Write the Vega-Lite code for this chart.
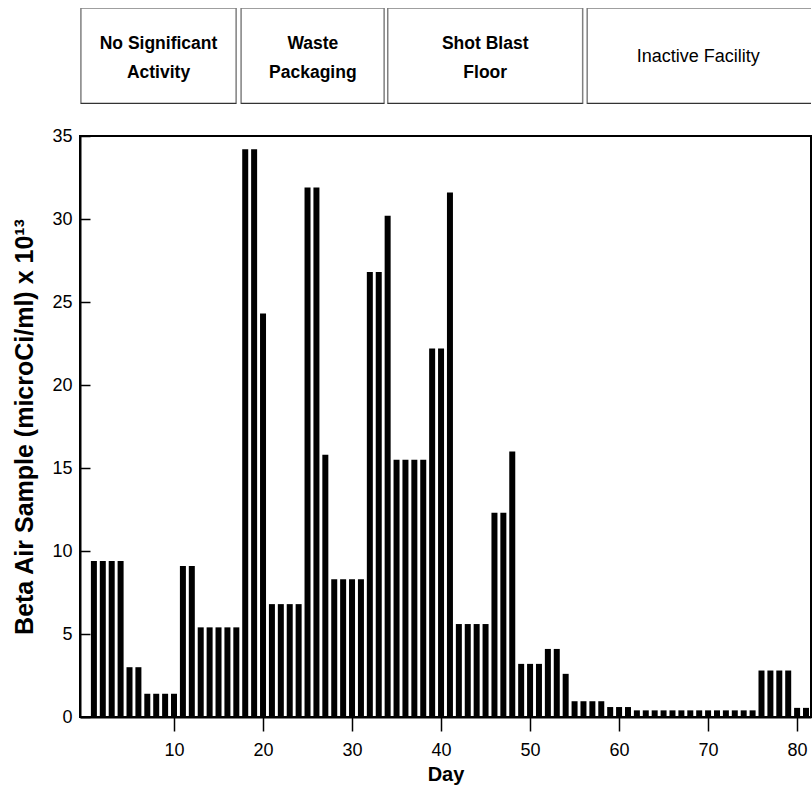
{
  "$schema": "https://vega.github.io/schema/vega-lite/v6.json",
  "padding": {"left": 11, "top": 8, "right": 0, "bottom": 0},
  "background": "white",
  "bounds": "flush",
  "config": {"font": "Liberation Sans", "view": {"stroke": null}},
  "spacing": 32,
  "datasets": {
    "phases": [
      {"phase": "No Significant\nActivity", "start": 0.1, "end": 17.3, "mid": 8.7, "bold": "yes"},
      {"phase": "Waste\nPackaging", "start": 17.85, "end": 33.7, "mid": 25.8, "bold": "yes"},
      {"phase": "Shot Blast\nFloor", "start": 34.1, "end": 55.7, "mid": 44.9, "bold": "yes"},
      {"phase": "Inactive Facility", "start": 56.2, "end": 83, "mid": 68.5, "bold": "no"}
    ],
    "samples": [
      {"day": 1, "beta": 9.4}, {"day": 2, "beta": 9.4}, {"day": 3, "beta": 9.4}, {"day": 4, "beta": 9.4},
      {"day": 5, "beta": 3.0}, {"day": 6, "beta": 3.0},
      {"day": 7, "beta": 1.4}, {"day": 8, "beta": 1.4}, {"day": 9, "beta": 1.4}, {"day": 10, "beta": 1.4},
      {"day": 11, "beta": 9.1}, {"day": 12, "beta": 9.1},
      {"day": 13, "beta": 5.4}, {"day": 14, "beta": 5.4}, {"day": 15, "beta": 5.4}, {"day": 16, "beta": 5.4}, {"day": 17, "beta": 5.4},
      {"day": 18, "beta": 34.2}, {"day": 19, "beta": 34.2},
      {"day": 20, "beta": 24.3},
      {"day": 21, "beta": 6.8}, {"day": 22, "beta": 6.8}, {"day": 23, "beta": 6.8}, {"day": 24, "beta": 6.8},
      {"day": 25, "beta": 31.9}, {"day": 26, "beta": 31.9},
      {"day": 27, "beta": 15.8},
      {"day": 28, "beta": 8.3}, {"day": 29, "beta": 8.3}, {"day": 30, "beta": 8.3}, {"day": 31, "beta": 8.3},
      {"day": 32, "beta": 26.8}, {"day": 33, "beta": 26.8},
      {"day": 34, "beta": 30.2},
      {"day": 35, "beta": 15.5}, {"day": 36, "beta": 15.5}, {"day": 37, "beta": 15.5}, {"day": 38, "beta": 15.5},
      {"day": 39, "beta": 22.2}, {"day": 40, "beta": 22.2},
      {"day": 41, "beta": 31.6},
      {"day": 42, "beta": 5.6}, {"day": 43, "beta": 5.6}, {"day": 44, "beta": 5.6}, {"day": 45, "beta": 5.6},
      {"day": 46, "beta": 12.3}, {"day": 47, "beta": 12.3},
      {"day": 48, "beta": 16.0},
      {"day": 49, "beta": 3.2}, {"day": 50, "beta": 3.2}, {"day": 51, "beta": 3.2},
      {"day": 52, "beta": 4.1}, {"day": 53, "beta": 4.1},
      {"day": 54, "beta": 2.6},
      {"day": 55, "beta": 0.95}, {"day": 56, "beta": 0.95}, {"day": 57, "beta": 0.95}, {"day": 58, "beta": 0.95},
      {"day": 59, "beta": 0.6}, {"day": 60, "beta": 0.6}, {"day": 61, "beta": 0.6},
      {"day": 62, "beta": 0.4}, {"day": 63, "beta": 0.4}, {"day": 64, "beta": 0.4}, {"day": 65, "beta": 0.4},
      {"day": 66, "beta": 0.4}, {"day": 67, "beta": 0.4}, {"day": 68, "beta": 0.4}, {"day": 69, "beta": 0.4},
      {"day": 70, "beta": 0.4}, {"day": 71, "beta": 0.4}, {"day": 72, "beta": 0.4}, {"day": 73, "beta": 0.4},
      {"day": 74, "beta": 0.4}, {"day": 75, "beta": 0.4},
      {"day": 76, "beta": 2.8}, {"day": 77, "beta": 2.8}, {"day": 78, "beta": 2.8}, {"day": 79, "beta": 2.8},
      {"day": 80, "beta": 0.55}, {"day": 81, "beta": 0.55}
    ]
  },
  "vconcat": [
    {
      "width": 731,
      "height": 96,
      "data": {"name": "phases"},
      "view": {"stroke": null},
      "layer": [
        {
          "mark": {"type": "rect", "fill": "white", "stroke": "#808080", "strokeWidth": 1.5, "clip": true},
          "encoding": {
            "x": {"field": "start", "type": "quantitative", "scale": {"domain": [0, 81], "nice": false, "zero": false}, "axis": null},
            "x2": {"field": "end"}
          }
        },
        {
          "mark": {"type": "rule", "stroke": "#333333", "strokeWidth": 2.5, "clip": true},
          "encoding": {
            "x": {"field": "start", "type": "quantitative", "scale": {"domain": [0, 81], "nice": false, "zero": false}, "axis": null},
            "x2": {"field": "end"},
            "y": {"datum": 0, "type": "quantitative", "scale": {"domain": [0, 1]}, "axis": null}
          }
        },
        {
          "transform": [{"filter": "datum.bold == 'yes'"}],
          "mark": {"type": "text", "font": "Liberation Sans", "fontSize": 17.5, "fontWeight": "bold", "lineBreak": "\n", "lineHeight": 29, "baseline": "middle", "align": "center", "dy": -12, "color": "black"},
          "encoding": {
            "x": {"field": "mid", "type": "quantitative", "scale": {"domain": [0, 81], "nice": false, "zero": false}, "axis": null},
            "y": {"datum": 0.5, "type": "quantitative", "scale": {"domain": [0, 1]}, "axis": null},
            "text": {"field": "phase"}
          }
        },
        {
          "transform": [{"filter": "datum.bold == 'no'"}],
          "mark": {"type": "text", "font": "Liberation Sans", "fontSize": 18, "baseline": "middle", "align": "center", "dy": 1, "color": "black"},
          "encoding": {
            "x": {"field": "mid", "type": "quantitative", "scale": {"domain": [0, 81], "nice": false, "zero": false}, "axis": null},
            "y": {"datum": 0.5, "type": "quantitative", "scale": {"domain": [0, 1]}, "axis": null},
            "text": {"field": "phase"}
          }
        }
      ]
    },
    {
      "width": 731,
      "height": 581,
      "data": {"name": "samples"},
      "view": {"stroke": "black", "strokeWidth": 2},
      "mark": {"type": "bar", "color": "black", "width": 6, "clip": true},
      "encoding": {
        "x": {
          "field": "day",
          "type": "quantitative",
          "scale": {"domain": [0, 81], "nice": false, "zero": false},
          "axis": {
            "title": "Day",
            "values": [10, 20, 30, 40, 50, 60, 70, 80],
            "grid": false,
            "domainColor": "black",
            "domainWidth": 2,
            "tickColor": "black",
            "tickWidth": 1.5,
            "tickSize": 14,
            "labelPadding": 10,
            "labelFont": "Liberation Sans",
            "labelFontSize": 18,
            "labelColor": "black",
            "titleFont": "Liberation Sans",
            "titleFontSize": 20,
            "titleFontWeight": "bold",
            "titleColor": "black",
            "titlePadding": 5
          }
        },
        "y": {
          "field": "beta",
          "type": "quantitative",
          "scale": {"domain": [0, 35], "nice": false},
          "axis": {
            "title": "Beta Air Sample (microCi/ml) x 10¹³",
            "values": [0, 5, 10, 15, 20, 25, 30, 35],
            "grid": false,
            "domainColor": "black",
            "domainWidth": 2,
            "tickColor": "black",
            "tickWidth": 1.5,
            "tickSize": -10,
            "labelPadding": 18,
            "labelFont": "Liberation Sans",
            "labelFontSize": 18,
            "labelColor": "black",
            "titleFont": "Liberation Sans",
            "titleFontSize": 25,
            "titleFontWeight": "bold",
            "titleColor": "black",
            "titlePadding": 14
          }
        }
      }
    }
  ]
}
